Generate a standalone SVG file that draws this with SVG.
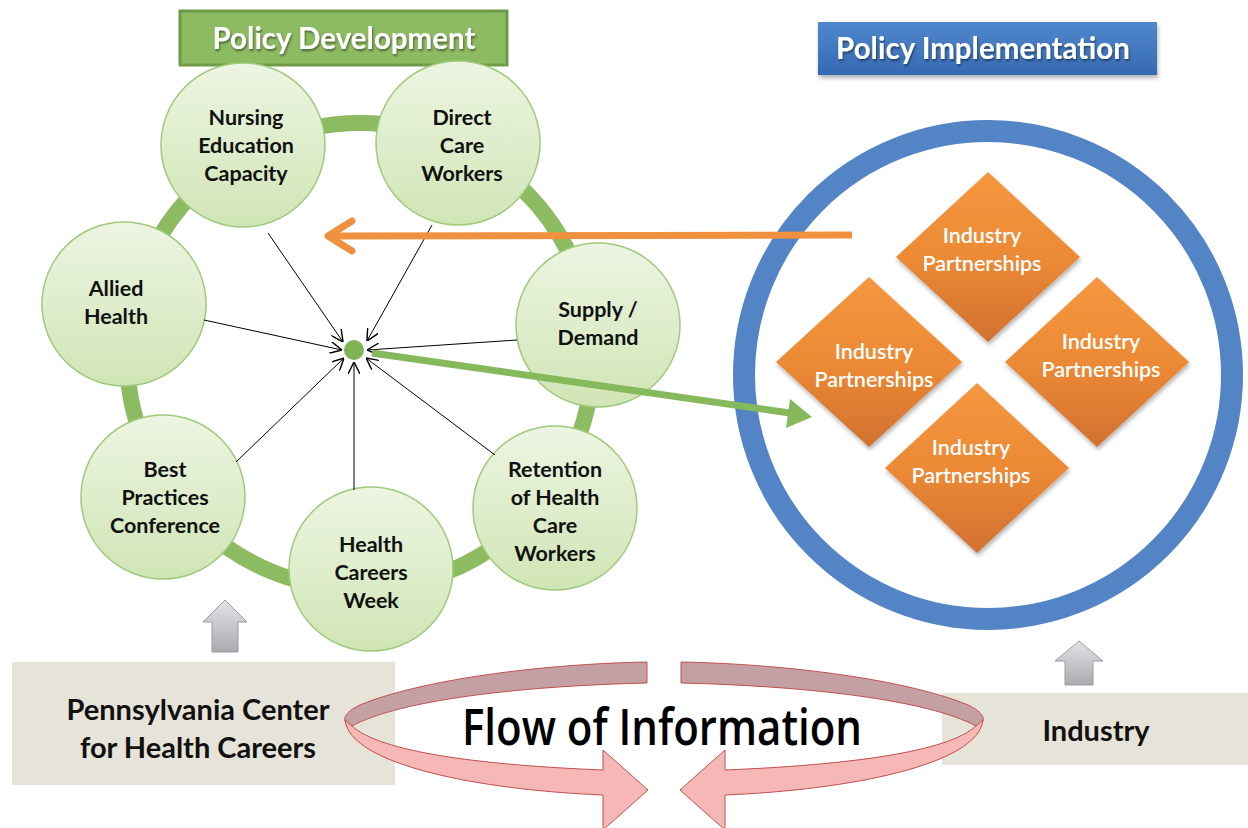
<svg xmlns="http://www.w3.org/2000/svg" width="1248" height="828" viewBox="0 0 1248 828">
<defs>
<linearGradient id="gNode" x1="0" y1="0" x2="0" y2="1"><stop offset="0" stop-color="#edf5e2"/><stop offset="1" stop-color="#d0e5b5"/></linearGradient>
<linearGradient id="gDia" x1="0" y1="0" x2="0" y2="1"><stop offset="0" stop-color="#f5973f"/><stop offset="0.5" stop-color="#ec8a35"/><stop offset="1" stop-color="#d1712f"/></linearGradient>
<linearGradient id="gBlue" x1="0" y1="0" x2="0" y2="1"><stop offset="0" stop-color="#5088cc"/><stop offset="1" stop-color="#3669b2"/></linearGradient>
<linearGradient id="gGray" x1="0" y1="0" x2="0" y2="1"><stop offset="0" stop-color="#e2e3e6"/><stop offset="1" stop-color="#a9abb0"/></linearGradient>
<filter id="sh" x="-10%" y="-20%" width="120%" height="150%"><feDropShadow dx="1" dy="2" stdDeviation="1.2" flood-color="#000" flood-opacity="0.45"/></filter>
<filter id="bsh" x="-5%" y="-10%" width="110%" height="130%"><feDropShadow dx="1" dy="3" stdDeviation="2" flood-color="#000" flood-opacity="0.3"/></filter>
<marker id="open" viewBox="0 0 10 10" refX="10" refY="5" markerWidth="12" markerHeight="12" markerUnits="userSpaceOnUse" orient="auto"><path d="M0,0 L10,5 L0,10" fill="none" stroke="#000" stroke-width="1.2"/></marker>
</defs>
<style>
.nt{font-family:"Lato","Open Sans",sans-serif;font-weight:bold;font-size:21.5px;fill:#111;text-anchor:middle}
.node{fill:url(#gNode);stroke:#9fca7c;stroke-width:1.5}
.dia{fill:url(#gDia)}
.dt{font-family:"Lato","Open Sans",sans-serif;font-size:21.5px;fill:#fff;text-anchor:middle;font-weight:600}
.ttl{font-family:"Lato","Open Sans",sans-serif;font-weight:bold;font-size:29.5px;fill:#fff;text-anchor:middle}
.bx{fill:#e6e4d8}
.bt{font-family:"Lato","Open Sans",sans-serif;font-weight:bold;font-size:29px;fill:#111;text-anchor:middle}
.thin{stroke:#000;stroke-width:1;fill:none;marker-end:url(#open)}
.back{fill:#c4a0a4;stroke:#c0504d;stroke-width:1}
.front{fill:#f6b7b7;stroke:#c0504d;stroke-width:1}
</style>
<rect width="1248" height="828" fill="#fff"/>

<!-- titles -->
<g id="policy-development">
<rect x="180" y="11" width="327" height="54" fill="#8dbb62" stroke="#6f9a48" stroke-width="3"/>
<text class="ttl" x="344" y="49" filter="url(#sh)">Policy Development</text>
</g>
<g id="policy-implementation">
<rect x="818" y="22" width="339" height="53" fill="url(#gBlue)" filter="url(#bsh)"/>
<text class="ttl" x="983" y="59" filter="url(#sh)">Policy Implementation</text>
</g>

<!-- green ring -->
<g id="ring">
<circle cx="360" cy="356" r="233" fill="none" stroke="#8dbb62" stroke-width="16"/>
</g>

<!-- nodes -->
<g id="nursing"><circle class="node" cx="243" cy="145" r="82"/>
<text class="nt" x="246" y="125">Nursing</text><text class="nt" x="246" y="153">Education</text><text class="nt" x="246" y="181">Capacity</text></g>
<g id="direct"><circle class="node" cx="458" cy="143" r="82"/>
<text class="nt" x="462" y="125">Direct</text><text class="nt" x="462" y="153">Care</text><text class="nt" x="462" y="181">Workers</text></g>
<g id="supply"><circle class="node" cx="598" cy="325" r="82"/>
<text class="nt" x="598" y="317">Supply /</text><text class="nt" x="598" y="345">Demand</text></g>
<g id="retention"><circle class="node" cx="555" cy="508" r="82"/>
<text class="nt" x="555" y="477">Retention</text><text class="nt" x="555" y="505">of Health</text><text class="nt" x="555" y="533">Care</text><text class="nt" x="555" y="561">Workers</text></g>
<g id="health-careers"><circle class="node" cx="371" cy="569" r="82"/>
<text class="nt" x="371" y="552">Health</text><text class="nt" x="371" y="580">Careers</text><text class="nt" x="371" y="608">Week</text></g>
<g id="best-practices"><circle class="node" cx="163" cy="497" r="82"/>
<text class="nt" x="165" y="477">Best</text><text class="nt" x="165" y="505">Practices</text><text class="nt" x="165" y="533">Conference</text></g>
<g id="allied"><circle class="node" cx="124" cy="304" r="82"/>
<text class="nt" x="116" y="296">Allied</text><text class="nt" x="116" y="324">Health</text></g>
<g id="hub"><circle cx="354" cy="350" r="10" fill="#7fb356"/></g>

<!-- blue circle with diamonds -->
<g id="implementation-circle">
<circle cx="988" cy="375" r="244" fill="none" stroke="#5384c6" stroke-width="22"/>
</g>
<g id="ip-top"><polygon class="dia" points="988,172 1080,257 988,342 896,257" filter="url(#bsh)"/>
<text class="dt" x="982" y="243">Industry</text><text class="dt" x="982" y="271">Partnerships</text></g>
<g id="ip-left"><polygon class="dia" points="869,277 962,362 869,447 776,362" filter="url(#bsh)"/>
<text class="dt" x="874" y="359">Industry</text><text class="dt" x="874" y="387">Partnerships</text></g>
<g id="ip-right"><polygon class="dia" points="1097,277 1189,362 1097,447 1005,362" filter="url(#bsh)"/>
<text class="dt" x="1101" y="349">Industry</text><text class="dt" x="1101" y="377">Partnerships</text></g>
<g id="ip-bottom"><polygon class="dia" points="977,383 1069,468 977,553 885,468" filter="url(#bsh)"/>
<text class="dt" x="971" y="455">Industry</text><text class="dt" x="971" y="483">Partnerships</text></g>

<!-- bottom boxes -->
<g id="pchc"><rect class="bx" x="12" y="662" width="383" height="123"/>
<text class="bt" x="198" y="720">Pennsylvania Center</text><text class="bt" x="198" y="758">for Health Careers</text></g>
<g id="industry"><rect class="bx" x="942" y="693" width="306" height="72"/>
<text class="bt" x="1096" y="741">Industry</text></g>

<!-- flow of information -->
<g id="flow">
<path class="back" d="M647,662 L647,683 C520,686 400,700 352,726 C340,722 343,713 360,705 C420,680 540,664 647,662 Z"/>
<path class="front" d="M345,720 C350,765 480,790 603,795 L603,830 L648,790 L603,750 L603,770 C480,765 380,752 352,726 Z"/>
<path class="back" d="M681,662 L681,683 C808,686 928,700 976,726 C988,722 985,713 968,705 C908,680 788,664 681,662 Z"/>
<path class="front" d="M983,720 C978,765 848,790 725,795 L725,830 L680,790 L725,750 L725,770 C848,765 948,752 976,726 Z"/>
<text x="662" y="745" font-family="'Open Sans','Lato',sans-serif" font-weight="600" font-size="50" fill="#000" text-anchor="middle" textLength="400" lengthAdjust="spacingAndGlyphs">Flow of Information</text>
</g>

<!-- gray block arrows -->
<g id="up-left"><path d="M212,652 L212,622 L203,622 L225,600 L247,622 L238,622 L238,652 Z" fill="url(#gGray)" stroke="#9a9ca0" stroke-width="1"/></g>
<g id="up-right"><path d="M1065,685 L1065,661 L1055,661 L1079,641 L1103,661 L1093,661 L1093,685 Z" fill="url(#gGray)" stroke="#9a9ca0" stroke-width="1"/></g>

<!-- connectors -->
<g id="connectors">
<line class="thin" x1="268" y1="233" x2="343" y2="342"/>
<line class="thin" x1="432" y1="225" x2="367" y2="341"/>
<line class="thin" x1="517" y1="340" x2="367" y2="350"/>
<line class="thin" x1="495" y1="455" x2="366" y2="358"/>
<line class="thin" x1="354" y1="490" x2="354" y2="362"/>
<line class="thin" x1="236" y1="462" x2="344" y2="358"/>
<line class="thin" x1="204" y1="320" x2="342" y2="350"/>
<line x1="852" y1="235" x2="330" y2="236" stroke="#f0913f" stroke-width="7"/>
<polyline points="352,221 328,236 352,251" fill="none" stroke="#f0913f" stroke-width="7" stroke-linecap="round" stroke-linejoin="round"/>
<line x1="372" y1="353" x2="790" y2="413" stroke="#86b95b" stroke-width="7"/>
<polygon points="812,417 790,399 786,428" fill="#86b95b"/>
</g>
</svg>
